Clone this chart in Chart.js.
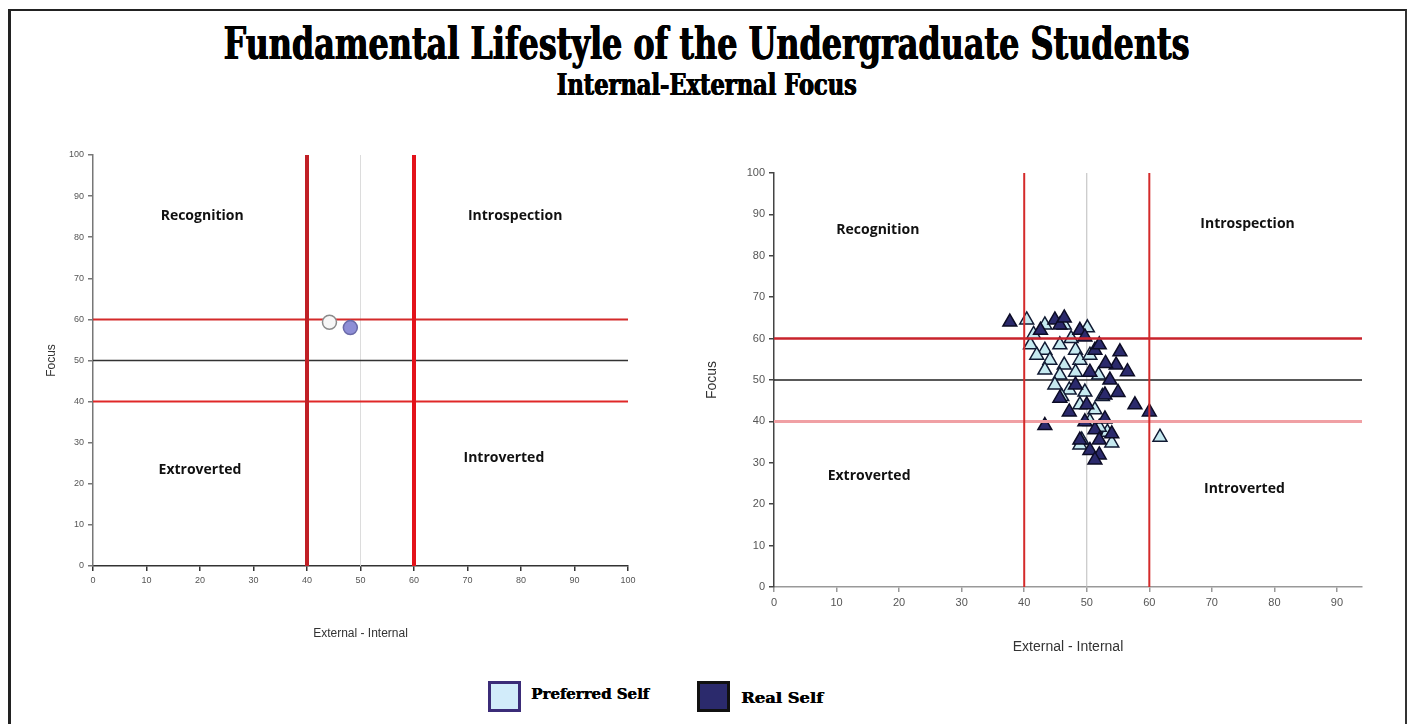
<!DOCTYPE html>
<html>
<head>
<meta charset="utf-8">
<script src="https://cdn.jsdelivr.net/npm/chart.js@4/dist/chart.umd.min.js"></script>
<style>
  html, body { margin: 0; padding: 0; background: #fff; }
  body { width: 1413px; height: 724px; position: relative; overflow: hidden; }
  #frame { position: absolute; left: 8px; top: 9px; width: 1394px; height: 760px;
           border-top: 2px solid #222; border-left: 3px solid #222; border-right: 2px solid #333; }
  .ttl { position: absolute; left: 0; width: 1413px; text-align: center;
         font-family: "DejaVu Serif", "Liberation Serif", serif; font-weight: bold; color: #000; white-space: nowrap; }
  .ttl span { display: inline-block; transform-origin: center; text-shadow: 0.6px 0 0 #000, -0.6px 0 0 #000; }
  #title { top: 20px; font-size: 44px; line-height: 48px; }
  #subtitle { top: 69px; font-size: 29px; line-height: 32px; }
  .box { position: absolute; }
  .legend { position: absolute; font-family: "DejaVu Serif", serif; font-weight: bold;
            font-size: 15px; white-space: nowrap; transform-origin: left center; text-shadow: 0.5px 0 0 #000; }
  .sw { position: absolute; box-sizing: border-box; width: 33px; height: 31px; }
</style>
</head>
<body>
<div id="frame"></div>
<div class="ttl" id="title"><span>Fundamental Lifestyle of the Undergraduate Students</span></div>
<div class="ttl" id="subtitle"><span>Internal-External Focus</span></div>

<div class="box" style="left:40px; top:145px; width:600px; height:500px;"><canvas id="left"></canvas></div>
<div class="box" style="left:700px; top:160px; width:680px; height:500px;"><canvas id="right"></canvas></div>

<div class="sw" style="left:488px; top:681px; background:#d2ecfa; border:3px solid #3b2c78;"></div>
<div class="legend" id="lg1" style="left:531px; top:685px;">Preferred Self</div>
<div class="sw" style="left:697px; top:681px; background:#2b2a6c; border:3px solid #111;"></div>
<div class="legend" id="lg2" style="left:741px; top:689px;">Real Self</div>

<script>
// ---- data ----
const quadrantNames = ['Recognition', 'Introspection', 'Extroverted', 'Introverted'];
const leftLabelPos = [[20.4, 85.2], [78.9, 85.2], [20, 23.4], [76.8, 26.3]];
const rightLabelPos = [[16.6, 86.2], [75.7, 87.7], [15.2, 26.8], [75.2, 23.7]];

const lowCut = 40, midCut = 50, highCut = 60;
const yTicks = [0, 10, 20, 30, 40, 50, 60, 70, 80, 90, 100];

// left chart: group means
const leftPreferred = [{ x: 44.2, y: 59.3 }];
const leftReal = [{ x: 48.1, y: 58.0 }];

// right chart: individual students
const rightPreferred = [
  [40.4,64.5],[43.3,63.3],[46.4,63.3],[50.1,62.6],[41,58.5],[43.3,57.2],[45.7,58.5],[48.2,57.2],
  [44.1,54.8],[46.4,53.6],[48.9,54.8],[50.5,56],[43.3,52.4],[45.7,51.2],[48.2,51.9],[51.9,51.2],
  [44.9,48.8],[47.2,47.6],[49.7,47.1],[52.5,46],[48.9,44],[51.3,42.8],[50.5,40],[53.3,37.4],
  [49.2,35.5],[48.9,34.3],[54,34.8],[61.7,36.2],[52,38.6],[46,46],[41.5,61],[42,56],[47.5,60]
].map(p => ({ x: p[0], y: p[1] }));
const rightReal = [
  [37.7,64],[44.9,64.5],[45.7,63.3],[48.9,62],[42.6,62],[46.4,65],[49.7,60.4],[51.3,57.2],
  [52,58.5],[55.3,56.8],[54.7,53.6],[56.5,52],[50.5,51.9],[53.7,50],[48.2,48.8],[52.9,46.4],
  [57.7,44],[60,42.3],[45.7,45.6],[47.2,42.3],[43.3,39],[49.7,39.9],[52.9,40.6],[51.3,38],
  [48.9,35.5],[52,35.5],[50.5,33],[52,31.9],[51.3,30.7],[54,37],[55,47],[50,44],[53,54]
].map(p => ({ x: p[0], y: p[1] }));

// ---- fit titles to width ----
function fit(sel, w) {
  const s = document.querySelector(sel);
  s.style.transform = 'scaleX(' + (w / s.getBoundingClientRect().width) + ')';
}
fit('#title span', 966);
fit('#subtitle span', 300);
fit('#lg1', 118);
fit('#lg2', 82);

// ---- helpers ----
function vline(x, ymin, ymax, color, width, order) {
  return { type: 'line', data: [{ x: x, y: ymin }, { x: x, y: ymax }], borderColor: color,
           borderWidth: width, pointRadius: 0, showLine: true, order: order };
}
function hline(y, xmin, xmax, color, width, order) {
  return { type: 'line', data: [{ x: xmin, y: y }, { x: xmax, y: y }], borderColor: color,
           borderWidth: width, pointRadius: 0, showLine: true, order: order };
}

const quadrantText = {
  id: 'quadrantText',
  afterDatasetsDraw(chart, args, opts) {
    const ctx = chart.ctx;
    ctx.save();
    ctx.font = 'bold ' + opts.size + 'px "Open Sans", sans-serif';
    ctx.fillStyle = '#111';
    ctx.textAlign = 'center';
    ctx.textBaseline = 'middle';
    opts.pos.forEach((p, i) => {
      ctx.fillText(quadrantNames[i], chart.scales.x.getPixelForValue(p[0]), chart.scales.y.getPixelForValue(p[1]));
    });
    ctx.restore();
  }
};

function scales(cfg) {
  return {
    x: {
      type: 'linear', min: 0, max: cfg.xmax,
      afterBuildTicks: s => { s.ticks = s.ticks.filter(t => t.value % 10 === 0); },
      afterFit: s => { s.height = cfg.xh; },
      ticks: { stepSize: 10, color: '#555', font: { size: cfg.tick, family: 'Arial, "Liberation Sans"' }, padding: 4, maxRotation: 0 },
      grid: { drawOnChartArea: false, tickLength: 5, color: cfg.xAxisColor, lineWidth: 1.5 },
      border: { color: cfg.xAxisColor, width: 1.5 },
      title: { display: true, text: 'External - Internal', color: '#333',
               font: { size: cfg.titleSize, family: 'Arial, "Liberation Sans"' }, padding: { top: cfg.titlePad } }
    },
    y: {
      type: 'linear', min: 0, max: 100,
      afterBuildTicks: s => { s.ticks = yTicks.map(v => ({ value: v })); },
      afterFit: s => { s.width = cfg.yw; },
      ticks: { color: '#555', font: { size: cfg.tick, family: 'Arial, "Liberation Sans"' }, padding: 4 },
      grid: { drawOnChartArea: false, tickLength: 5, color: cfg.yAxisColor, lineWidth: 1.5 },
      border: { color: cfg.yAxisColor, width: 1.5 },
      title: { display: true, text: 'Focus', color: '#333',
               font: { size: cfg.titleSize, family: 'Arial, "Liberation Sans"' }, padding: { bottom: cfg.yTitlePad } }
    }
  };
}

const common = {
  responsive: true, maintainAspectRatio: false, animation: false,
  plugins: { legend: { display: false }, tooltip: { enabled: false } }
};

new Chart(document.getElementById('left'), {
  type: 'scatter',
  data: {
    datasets: [
      { label: 'Preferred Self', data: leftPreferred, backgroundColor: '#f7f7f7', borderColor: '#8a8a8a',
        borderWidth: 1.5, pointRadius: 7, order: 1 },
      { label: 'Real Self', data: leftReal, backgroundColor: '#8e8ed6', borderColor: '#6a6aa8',
        borderWidth: 1.5, pointRadius: 7, order: 1 },
      vline(midCut, 0, 100, '#dcdcdc', 1, 9),
      hline(midCut, 0, 100, '#333', 1.5, 8),
      hline(highCut, 0, 100, '#d42a2a', 2, 2),
      hline(lowCut, 0, 100, '#e02828', 2, 2),
      vline(lowCut, -1, 101, '#c02026', 4, 0),
      vline(highCut, -1, 101, '#e3121a', 4, 0)
    ]
  },
  options: Object.assign({}, common, {
    layout: { padding: { top: 10, right: 12, left: 0, bottom: 0 } },
    scales: scales({ xmax: 100, xh: 79, yw: 53, tick: 9, titleSize: 12, titlePad: 14, yTitlePad: 16,
                     xAxisColor: '#333', yAxisColor: '#777' }),
    plugins: Object.assign({}, common.plugins, { quadrantText: { pos: leftLabelPos, size: 14 } })
  }),
  plugins: [quadrantText]
});

new Chart(document.getElementById('right'), {
  type: 'scatter',
  data: {
    datasets: [
      { label: 'Preferred Self', data: rightPreferred, pointStyle: 'triangle', backgroundColor: '#c6eaf0',
        borderColor: '#111a33', borderWidth: 1.5, pointRadius: 8, order: 4 },
      { label: 'Real Self', data: rightReal, pointStyle: 'triangle', backgroundColor: '#2b2a6c',
        borderColor: '#0c0c25', borderWidth: 1.5, pointRadius: 8, order: 3 },
      vline(midCut, 0, 100, '#bbb', 1, 9),
      hline(midCut, 0, 94, '#222', 1.5, 8),
      hline(highCut, 0, 94, '#c8232c', 2.5, 1),
      hline(lowCut, 0, 94, '#f0a0a4', 3, 1),
      vline(lowCut, 0, 100, '#d42a2a', 2, 0),
      vline(highCut, 0, 100, '#d42a2a', 2, 0)
    ]
  },
  options: Object.assign({}, common, {
    layout: { padding: { top: 13, right: 18, left: 0, bottom: 0 } },
    scales: scales({ xmax: 94, xh: 73, yw: 74, tick: 11, titleSize: 14, titlePad: 12, yTitlePad: 14,
                     xAxisColor: '#999', yAxisColor: '#444' }),
    plugins: Object.assign({}, common.plugins, { quadrantText: { pos: rightLabelPos, size: 14 } })
  }),
  plugins: [quadrantText]
});
</script>
</body>
</html>
